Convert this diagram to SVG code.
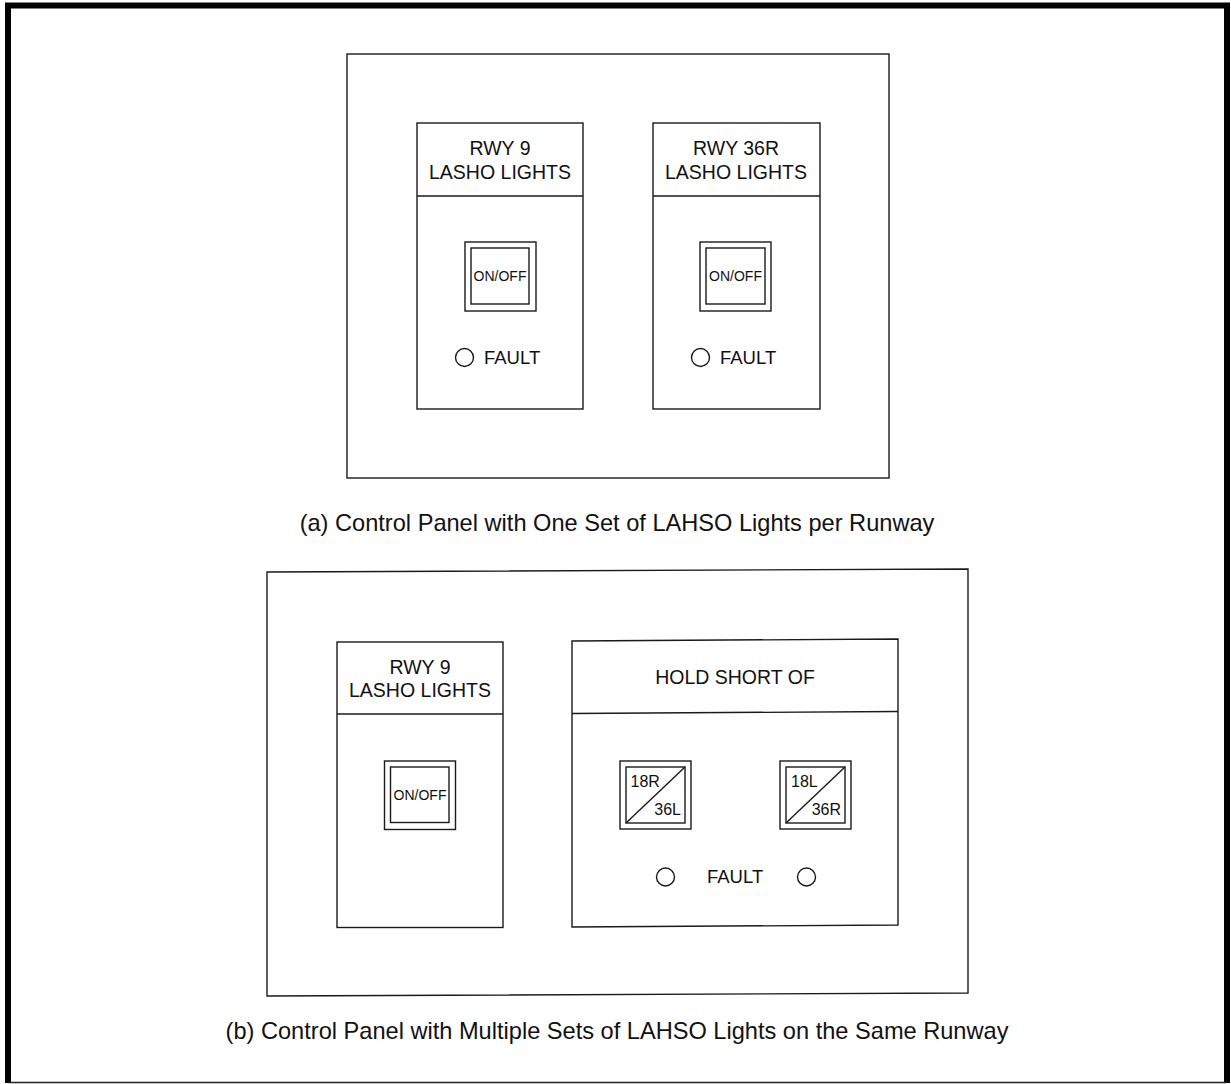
<svg xmlns="http://www.w3.org/2000/svg" width="1231" height="1084" viewBox="0 0 1231 1084">
<style>
.ln{fill:none;stroke:#1a1a1a;stroke-width:1.4}
.t{font-family:"Liberation Sans",Arial,sans-serif;fill:#111}
.lbl{font-size:19.5px;text-anchor:middle}
.sw{font-size:14px;text-anchor:middle}
.sm{font-size:16px}
.flt{font-size:18.5px}
.cap{font-size:23.6px;text-anchor:middle}
</style>
<rect x="0" y="0" width="1231" height="1084" fill="#fff"/>
<g id="frame">
<path d="M8,1083 V5.5 H1227 V1083" fill="none" stroke="#000" stroke-width="6"/>
<line x1="8" y1="1082.5" x2="1227" y2="1082.5" stroke="#222" stroke-width="1.5"/>
</g>
<g id="panel-a">
<rect class="ln" x="347" y="54" width="542" height="424"/>
</g>
<g id="a-rwy9">
<rect class="ln" x="417" y="123" width="166" height="286"/>
<line class="ln" x1="417" y1="196" x2="583" y2="196"/>
<text class="t lbl" x="500" y="155">RWY 9</text>
<text class="t lbl" x="500" y="179">LASHO LIGHTS</text>
<rect class="ln" x="465" y="242" width="71" height="69"/>
<rect class="ln" x="471" y="248" width="58" height="56"/>
<text class="t sw" x="500" y="281">ON/OFF</text>
<circle class="ln" cx="464.5" cy="357.5" r="9"/>
<text class="t flt" x="484" y="364">FAULT</text>
</g>
<g id="a-rwy36r">
<rect class="ln" x="653" y="123" width="167" height="286"/>
<line class="ln" x1="653" y1="196" x2="820" y2="196"/>
<text class="t lbl" x="736" y="155">RWY 36R</text>
<text class="t lbl" x="736" y="179">LASHO LIGHTS</text>
<rect class="ln" x="700" y="242" width="71" height="69"/>
<rect class="ln" x="706" y="248" width="59" height="56"/>
<text class="t sw" x="735.5" y="281">ON/OFF</text>
<circle class="ln" cx="700.5" cy="357.5" r="9"/>
<text class="t flt" x="720" y="364">FAULT</text>
</g>
<text class="t cap" x="617" y="531">(a) Control Panel with One Set of LAHSO Lights per Runway</text>
<g id="panel-b">
<polygon class="ln" points="267,572 968,569 968,993 267,996"/>
</g>
<g id="b-rwy9">
<rect class="ln" x="337" y="642" width="166" height="285.5"/>
<line class="ln" x1="337" y1="714" x2="503" y2="714"/>
<text class="t lbl" x="420" y="674">RWY 9</text>
<text class="t lbl" x="420" y="697">LASHO LIGHTS</text>
<rect class="ln" x="384.5" y="761" width="71" height="68.5"/>
<rect class="ln" x="390.5" y="767" width="58.5" height="55.5"/>
<text class="t sw" x="420" y="800">ON/OFF</text>
</g>
<g id="b-holdshort">
<polygon class="ln" points="572,641 898,639 898,925 572,927"/>
<line class="ln" x1="572" y1="713.5" x2="898" y2="711.5"/>
<text class="t lbl" x="735" y="684">HOLD SHORT OF</text>
<rect class="ln" x="620" y="761" width="71" height="68"/>
<rect class="ln" x="626" y="767" width="59" height="56"/>
<line class="ln" x1="626" y1="823" x2="685" y2="767"/>
<text class="t sm" x="630.5" y="787">18R</text>
<text class="t sm" x="681" y="815" text-anchor="end">36L</text>
<rect class="ln" x="780" y="761" width="71" height="68"/>
<rect class="ln" x="786" y="767" width="59" height="56"/>
<line class="ln" x1="786" y1="823" x2="845" y2="767"/>
<text class="t sm" x="791" y="787">18L</text>
<text class="t sm" x="841" y="815" text-anchor="end">36R</text>
<circle class="ln" cx="665.5" cy="877" r="9"/>
<circle class="ln" cx="806.5" cy="877" r="9"/>
<text class="t flt" x="707" y="883">FAULT</text>
</g>
<text class="t cap" x="617" y="1039">(b) Control Panel with Multiple Sets of LAHSO Lights on the Same Runway</text>
</svg>
